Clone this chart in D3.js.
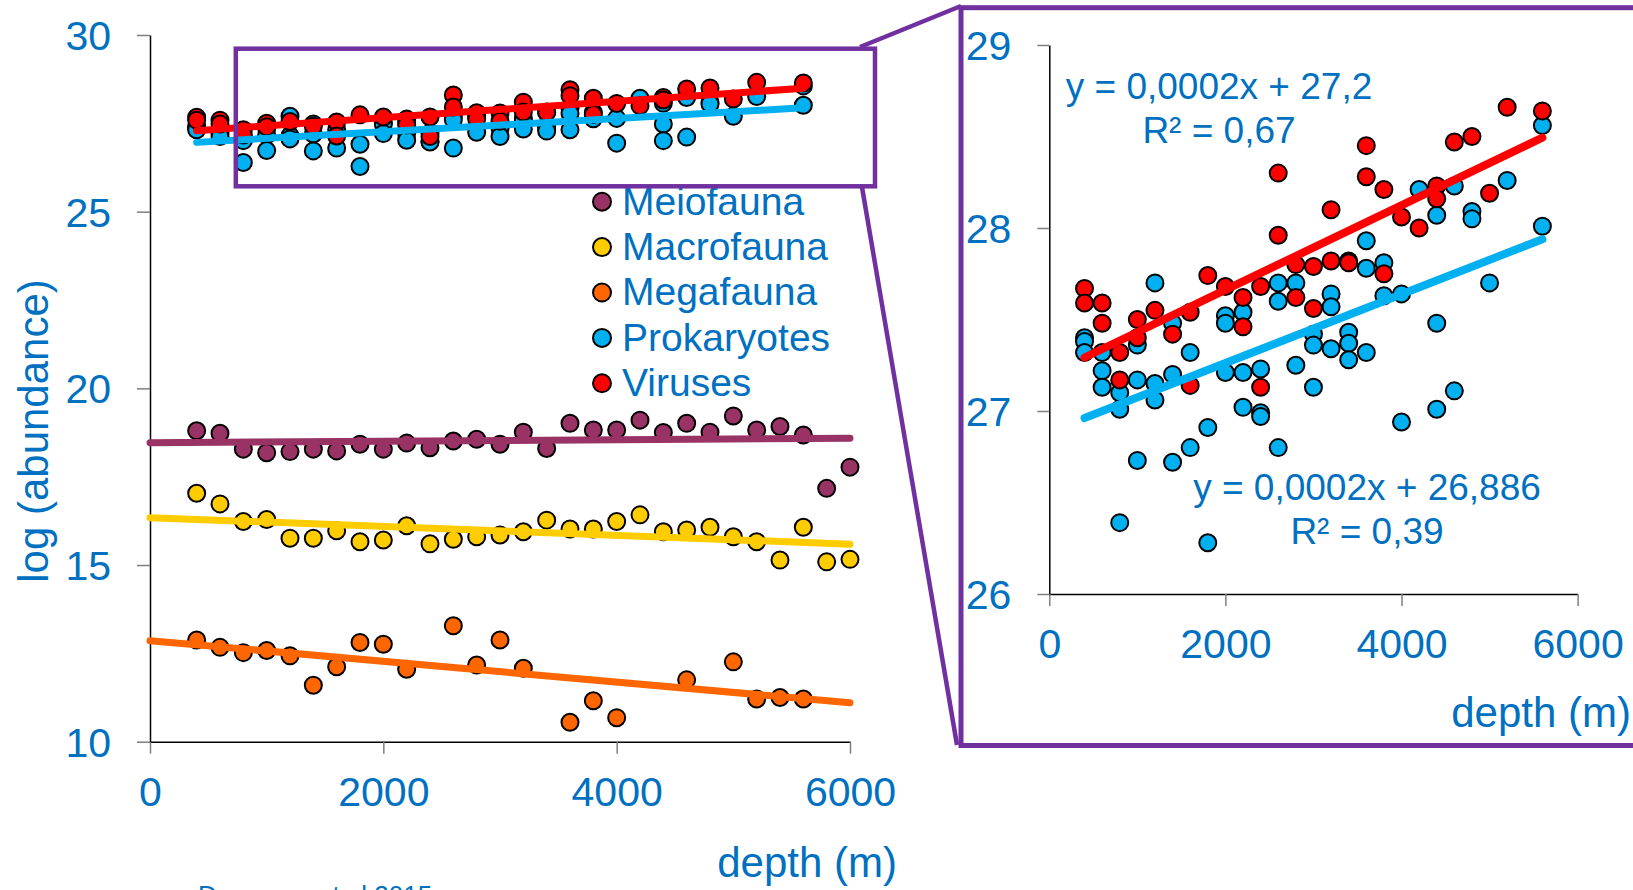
<!DOCTYPE html>
<html>
<head>
<meta charset="utf-8">
<script src="https://cdn.jsdelivr.net/npm/d3@7"></script>
<style>
  body { margin: 0; background: #fff; }
  svg text { font-family: "Liberation Sans", Arial, sans-serif; fill: #0070C0; }
</style>
</head>
<body>
<svg id="chart" width="1633" height="890"></svg>
<script>
// ---- data (depth in m, log abundance) ----
const meiofauna = [[400,18.80],[600,18.73],[800,18.28],[1000,18.18],[1200,18.21],[1400,18.28],[1600,18.23],[1800,18.42],[2000,18.28],[2200,18.45],[2400,18.32],[2600,18.51],[2800,18.56],[3000,18.42],[3200,18.76],[3400,18.30],[3600,19.01],[3800,18.82],[4000,18.82],[4200,19.10],[4400,18.75],[4600,19.01],[4800,18.76],[5000,19.22],[5200,18.82],[5400,18.92],[5600,18.68],[5800,17.17],[6000,17.77]];
const macrofauna = [[400,17.03],[600,16.73],[800,16.23],[1000,16.29],[1200,15.76],[1400,15.76],[1600,15.97],[1800,15.66],[2000,15.71],[2200,16.11],[2400,15.60],[2600,15.73],[2800,15.80],[3000,15.85],[3200,15.94],[3400,16.27],[3600,16.02],[3800,16.02],[4000,16.23],[4200,16.42],[4400,15.94],[4600,15.99],[4800,16.07],[5000,15.80],[5200,15.66],[5400,15.14],[5600,16.07],[5800,15.09],[6000,15.16]];
const megafauna = [[400,12.88],[600,12.67],[800,12.52],[1000,12.58],[1200,12.43],[1400,11.60],[1600,12.12],[1800,12.81],[2000,12.76],[2200,12.05],[2600,13.28],[2800,12.17],[3000,12.88],[3200,12.08],[3600,10.55],[3800,11.16],[4000,10.68],[4600,11.75],[5000,12.26],[5200,11.21],[5400,11.25],[5600,11.21]];
const prokaryotes = [[400,27.40],[400,27.38],[400,27.32],[600,27.32],[600,27.22],[600,27.13],[800,27.10],[800,27.01],[800,26.39],[1000,27.36],[1000,27.17],[1000,26.73],[1200,27.70],[1200,27.15],[1200,27.06],[1400,27.48],[1400,27.20],[1400,26.72],[1600,27.32],[1600,26.80],[1800,26.91],[1800,26.28],[2000,27.52],[2000,27.48],[2000,27.21],[2200,27.54],[2200,27.21],[2200,27.02],[2400,27.23],[2400,26.99],[2400,26.97],[2600,27.70],[2600,27.60],[2600,26.80],[2800,27.70],[2800,27.25],[3000,27.42],[3000,27.36],[3000,27.13],[3200,27.64],[3200,27.57],[3200,27.34],[3400,27.43],[3400,27.37],[3400,27.28],[3600,27.93],[3600,27.78],[3600,27.32],[3800,27.81],[3800,27.63],[4000,27.64],[4000,26.94],[4200,28.21],[4400,28.07],[4400,27.48],[4400,27.01],[4600,28.23],[4600,27.11],[4800,28.09],[4800,28.05],[5000,27.70],[5200,28.26],[5600,28.56],[5600,28.01]];
const viruses = [[400,27.67],[400,27.59],[600,27.59],[600,27.48],[800,27.32],[800,27.17],[1000,27.50],[1000,27.40],[1200,27.55],[1400,27.42],[1600,27.54],[1600,27.14],[1800,27.74],[2000,27.68],[2200,27.62],[2200,27.46],[2400,27.68],[2400,27.13],[2600,28.30],[2600,27.96],[2800,27.80],[2800,27.62],[3000,27.79],[3000,27.56],[3200,28.10],[3200,27.82],[3400,27.82],[3400,27.81],[3600,28.45],[3600,28.28],[3800,28.21],[3800,27.75],[4000,28.06],[4200,28.00],[4400,28.23],[4400,28.16],[4600,28.47],[4800,28.50],[5000,28.19],[5200,28.66],[5600,28.64]];

const seriesNames = ["Meiofauna", "Macrofauna", "Megafauna", "Prokaryotes", "Viruses"];
const seriesData = [meiofauna, macrofauna, megafauna, prokaryotes, viruses];

// linear trend lines (y = slope * x + intercept) over [from, to]
const trendSlope = [0.0000217, -0.000125, -0.000293, 0.000188, 0.000231];
const trendIntercept = [18.46, 16.34, 12.86, 26.886, 27.2];
const trendFrom = [0, 0, 0, 400, 400];
const trendTo = [6000, 6000, 6000, 5600, 5600];

const xTicks = [0, 2000, 4000, 6000];
const yTicksLeft = [10, 15, 20, 25, 30];
const yTicksRight = [26, 27, 28, 29];

const eqVirus = ["y = 0,0002x + 27,2", "R² = 0,67"];
const eqProk = ["y = 0,0002x + 26,886", "R² = 0,39"];

// colours
const fill = {Meiofauna: "#993366", Macrofauna: "#FFCC00", Megafauna: "#FF6600", Prokaryotes: "#00B0F0", Viruses: "#FF0000"};
const textBlue = "#0070C0", frame = "#7030A0";

const svg = d3.select("#chart");

// ---------- helpers ----------
function styleAxis(g) {
  g.select(".domain").attr("stroke", "#000").attr("stroke-width", 1.5);
  g.selectAll(".tick line").attr("stroke", "#7f7f7f").attr("stroke-width", 1.5);
  g.selectAll(".tick text").attr("fill", textBlue).style("font-size", "41px");
}

function drawPanel(g, x, y, idx, lineW) {
  // points
  idx.forEach(i => {
    g.append("g").selectAll("circle")
      .data(seriesData[i])
      .enter().append("circle")
      .attr("cx", d => x(d[0]))
      .attr("cy", d => y(d[1]))
      .attr("r", 8.5)
      .attr("fill", fill[seriesNames[i]])
      .attr("stroke", "#000")
      .attr("stroke-width", 2);
  });
  // trend lines on top
  let line = d3.line().x(d => x(d[0])).y(d => y(d[1]));
  idx.forEach(i => {
    let pts = [trendFrom[i], trendTo[i]].map(v => [v, trendSlope[i] * v + trendIntercept[i]]);
    g.append("path")
      .attr("d", line(pts))
      .attr("fill", "none")
      .attr("stroke", fill[seriesNames[i]])
      .attr("stroke-width", lineW)
      .attr("stroke-linecap", "round");
  });
}

// ---------- left chart ----------
let xL = d3.scaleLinear().domain([0, 6000]).range([150, 850]);
let yL = d3.scaleLinear().domain([10, 30]).range([741.7, 35]);

svg.append("g")
  .attr("transform", "translate(0,741.7)")
  .call(d3.axisBottom(xL).tickValues(xTicks).tickSize(12).tickSizeOuter(0).tickPadding(23).tickFormat(d3.format("d")))
  .call(styleAxis);

svg.append("g")
  .attr("transform", "translate(150,0)")
  .call(d3.axisLeft(yL).tickValues(yTicksLeft).tickSize(13).tickSizeOuter(0).tickPadding(26).tickFormat(d3.format("d")))
  .call(styleAxis)
  .selectAll(".tick text").attr("dy", "0.35em");

drawPanel(svg.append("g"), xL, yL, [0, 1, 2, 3, 4], 7);

svg.append("text")
  .attr("transform", "translate(48,431) rotate(-90)")
  .attr("text-anchor", "middle")
  .style("font-size", "42px")
  .text("log (abundance)");

svg.append("text")
  .attr("x", 897).attr("y", 877)
  .attr("text-anchor", "end")
  .style("font-size", "42px")
  .text("depth (m)");

// legend
let legend = svg.append("g");
legend.selectAll("circle")
  .data(seriesNames)
  .enter().append("circle")
  .attr("cx", 602)
  .attr("cy", (d, i) => 201.7 + i * 45.4)
  .attr("r", 9)
  .attr("fill", d => fill[d])
  .attr("stroke", "#000")
  .attr("stroke-width", 2);
legend.selectAll("text")
  .data(seriesNames)
  .enter().append("text")
  .attr("x", 622)
  .attr("y", (d, i) => 214.5 + i * 45.4)
  .style("font-size", "39px")
  .text(d => d);

// zoom frame on the left chart + connectors
svg.append("rect")
  .attr("x", 235.8).attr("y", 48.7)
  .attr("width", 875 - 235.8).attr("height", 186.3 - 48.7)
  .attr("fill", "none").attr("stroke", frame).attr("stroke-width", 4.5);
svg.append("line").attr("x1", 860).attr("y1", 47).attr("x2", 961).attr("y2", 6)
  .attr("stroke", frame).attr("stroke-width", 4.5);
svg.append("line").attr("x1", 862).attr("y1", 187).attr("x2", 957).attr("y2", 745)
  .attr("stroke", frame).attr("stroke-width", 4.5);

// ---------- right (zoomed) chart ----------
svg.append("rect")
  .attr("x", 961).attr("y", 7.7)
  .attr("width", 700).attr("height", 745.5 - 7.7)
  .attr("fill", "#fff").attr("stroke", frame).attr("stroke-width", 5);

let xR = d3.scaleLinear().domain([0, 6000]).range([1049.3, 1577.6]);
let yR = d3.scaleLinear().domain([26, 29]).range([594, 45]);

svg.append("g")
  .attr("transform", "translate(0,594)")
  .call(d3.axisBottom(xR).tickValues(xTicks).tickSize(12).tickSizeOuter(0).tickPadding(23).tickFormat(d3.format("d")))
  .call(styleAxis);

svg.append("g")
  .attr("transform", "translate(1049.3,0)")
  .call(d3.axisLeft(yR).tickValues(yTicksRight).tickSize(12).tickSizeOuter(0).tickPadding(26).tickFormat(d3.format("d")))
  .call(styleAxis)
  .selectAll(".tick text").attr("dy", "0.35em");

drawPanel(svg.append("g"), xR, yR, [3, 4], 8);

svg.append("text")
  .attr("x", 1631).attr("y", 727)
  .attr("text-anchor", "end")
  .style("font-size", "42px")
  .text("depth (m)");

// regression labels
svg.append("g").selectAll("text")
  .data(eqVirus)
  .enter().append("text")
  .attr("x", 1219)
  .attr("y", (d, i) => 99.3 + i * 43.4)
  .attr("text-anchor", "middle")
  .style("font-size", "37px")
  .text(d => d);

svg.append("g").selectAll("text")
  .data(eqProk)
  .enter().append("text")
  .attr("x", 1367)
  .attr("y", (d, i) => 500 + i * 44)
  .attr("text-anchor", "middle")
  .style("font-size", "37px")
  .text(d => d);

// source line, cut by the bottom edge as in the original
svg.append("text")
  .attr("x", 198).attr("y", 904)
  .style("font-size", "26px")
  .text("Danovaro et al 2015");
</script>
</body>
</html>
